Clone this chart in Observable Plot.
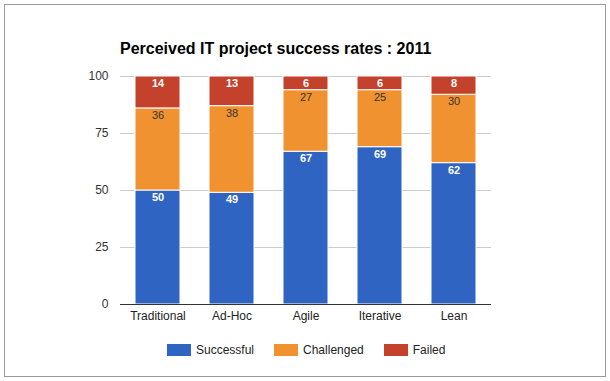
<!DOCTYPE html>
<html><head><meta charset="utf-8">
<script src="https://cdn.jsdelivr.net/npm/d3@7"></script>
<script src="https://cdn.jsdelivr.net/npm/@observablehq/plot@0.6"></script>
<style>
body{margin:0;background:#fff;font-family:"Liberation Sans",Arial,sans-serif;}
#wrap{position:relative;width:610px;height:381px;overflow:hidden;background:#fff}
#frame{position:absolute;left:4px;top:4px;width:600px;height:371px;border:1px solid #999;}
#title{position:absolute;left:120px;top:40px;font-weight:bold;font-size:16px;line-height:18px;color:#000;white-space:nowrap}
#chart{position:absolute;left:0;top:60px}
#legend{position:absolute;left:167px;top:342px;display:flex;align-items:center;font-size:12px;color:#222;line-height:16px}
.item{display:flex;align-items:center;margin-right:20px}
.sw{width:24px;height:12px;margin-right:5px}
</style></head>
<body>
<div id="wrap">
  <div id="frame"></div>
  <div id="title">Perceived IT project success rates : 2011</div>
  <div id="chart"></div>
  <div id="legend"></div>
</div>
<script>
const categories = ["Traditional", "Ad-Hoc", "Agile", "Iterative", "Lean"];
const seriesNames = ["Successful", "Challenged", "Failed"];
const successful = [50, 49, 67, 69, 62];
const challenged = [36, 38, 27, 25, 30];
const failed = [14, 13, 6, 6, 8];
const colors = ["#2f64c2", "#f0922f", "#c4412c"];
const yTicks = [0, 25, 50, 75, 100];

const seriesValues = [successful, challenged, failed];
const data = [];
categories.forEach((c, i) => {
  seriesValues.forEach((arr, j) => data.push({category: c, series: seriesNames[j], value: arr[i]}));
});

const plot = Plot.plot({
  width: 610,
  height: 270,
  marginLeft: 120,
  marginRight: 119,
  marginTop: 16,
  marginBottom: 26,
  style: {fontFamily: '"Liberation Sans", Arial, sans-serif', fontSize: "12px", color: "#333", background: "transparent"},
  x: {domain: categories, paddingInner: 0.39, paddingOuter: 0.195, label: null},
  y: {domain: [0, 100], label: null},
  color: {domain: seriesNames, range: colors},
  marks: [
    Plot.gridY(yTicks, {stroke: "#ccc", strokeOpacity: 1}),
    Plot.axisY(yTicks, {tickSize: 0, tickPadding: 12, label: null, fill: "#333"}),
    Plot.axisX({tickSize: 0, tickPadding: 7, label: null, fill: "#222"}),
    Plot.barY(data, {x: "category", y: "value", fill: "series", z: "series", order: seriesNames, stroke: "white", strokeWidth: 1}),
    Plot.ruleY([0], {stroke: "#333"}),
    Plot.text(data, Plot.stackY2({x: "category", y: "value", z: "series", order: seriesNames,
      text: d => d.series === "Challenged" ? "" : String(d.value), fill: "white", fontWeight: "bold", fontSize: 11, dy: 7})),
    Plot.text(data, Plot.stackY2({x: "category", y: "value", z: "series", order: seriesNames,
      text: d => d.series === "Challenged" ? String(d.value) : "", fill: "#333", fontSize: 11, dy: 7}))
  ]
});
document.getElementById("chart").appendChild(plot);

const legend = document.getElementById("legend");
seriesNames.forEach((s, i) => {
  const it = document.createElement("div");
  it.className = "item";
  const sw = document.createElement("div");
  sw.className = "sw";
  sw.style.background = colors[i];
  const t = document.createElement("span");
  t.textContent = s;
  it.appendChild(sw); it.appendChild(t);
  legend.appendChild(it);
});
</script>
</body></html>
